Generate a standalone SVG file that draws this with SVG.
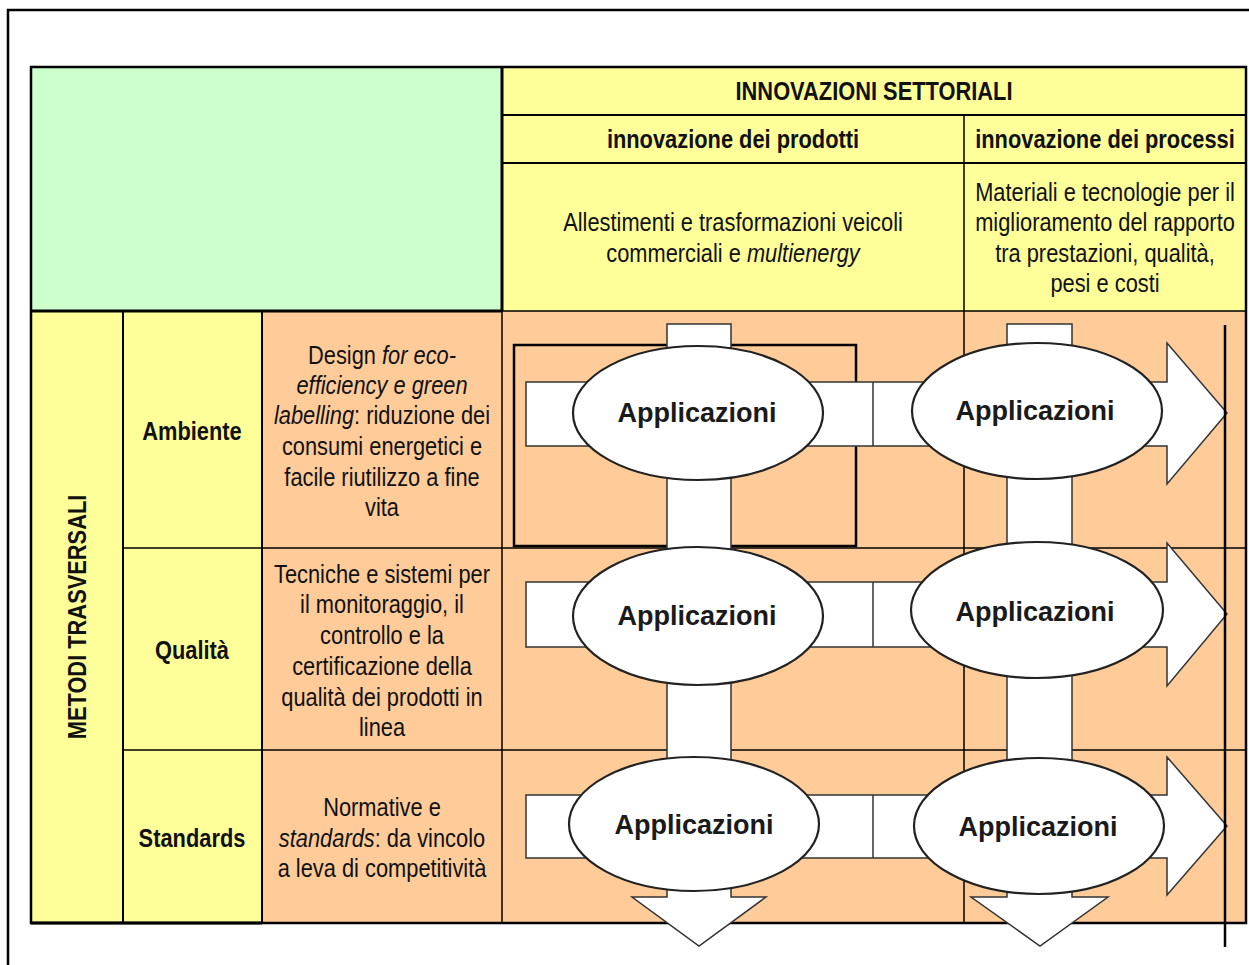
<svg xmlns="http://www.w3.org/2000/svg" width="1249" height="965" viewBox="0 0 1249 965">
<style>
.t{font-family:"Liberation Sans",Arial,sans-serif;font-size:26px;fill:#111;text-anchor:middle}
.b{font-weight:bold}
.i{font-style:italic}
.app{font-family:"Liberation Sans",Arial,sans-serif;font-size:27px;font-weight:bold;fill:#1a1a1a;text-anchor:middle}
.ln{stroke:#000;fill:none}
.shape{fill:#fff;stroke:#333;stroke-width:1.5}
.ell{fill:#fff;stroke:#222;stroke-width:2.2}
</style>
<rect width="1249" height="965" fill="#fff"/>
<g id="frame">
<path class="ln" stroke-width="2.5" d="M8,965 V10 H1249"/>
</g>
<g id="table">
<rect x="31" y="67" width="471" height="244" fill="#CCFFCC"/>
<rect x="502" y="67" width="744" height="244" fill="#FFFF99"/>
<rect x="31" y="311" width="231" height="612" fill="#FFFF99"/>
<rect x="262" y="311" width="984" height="612" fill="#FFCC99"/>
<path class="ln" stroke-width="1.5" d="M502,311 H1246 M964,115 V923 M502,311 V923 M123,548 H1246 M123,750 H1246 M262,923 H1246"/>
<path class="ln" stroke-width="2" d="M502,115 H1246 M502,163 H1246 M123,311 V923 M262,311 V923"/>
<path class="ln" stroke-width="3" d="M502,67 V311 M31,311 H502 M31,923 H262"/>
<rect class="ln" stroke-width="2.5" x="31" y="67" width="1215" height="856"/>
</g>
<g id="header">
<text class="t b" transform="matrix(0.84,0,0,1,874,100)">INNOVAZIONI SETTORIALI</text>
<text class="t b" transform="matrix(0.84,0,0,1,733,148)">innovazione dei prodotti</text>
<text class="t b" transform="matrix(0.84,0,0,1,1105,148)">innovazione dei processi</text>
<text class="t" transform="matrix(0.84,0,0,1,733,231)">Allestimenti e trasformazioni veicoli</text>
<text class="t" transform="matrix(0.84,0,0,1,733,262)">commerciali e <tspan class="i">multienergy</tspan></text>
<text class="t" transform="matrix(0.84,0,0,1,1105,201)">Materiali e tecnologie per il</text>
<text class="t" transform="matrix(0.84,0,0,1,1105,231)">miglioramento del rapporto</text>
<text class="t" transform="matrix(0.84,0,0,1,1105,262)">tra prestazioni, qualità,</text>
<text class="t" transform="matrix(0.84,0,0,1,1105,292)">pesi e costi</text>
</g>
<g id="metodi">
<text class="t b" transform="translate(86,617) rotate(-90) scale(0.84,1)">METODI TRASVERSALI</text>
</g>
<g id="ambiente">
<text class="t b" transform="matrix(0.84,0,0,1,192,440)">Ambiente</text>
<text class="t" transform="matrix(0.84,0,0,1,382,364)">Design <tspan class="i">for eco-</tspan></text>
<text class="t i" transform="matrix(0.84,0,0,1,382,394)">efficiency e green</text>
<text class="t" transform="matrix(0.84,0,0,1,382,424)"><tspan class="i">labelling</tspan>: riduzione dei</text>
<text class="t" transform="matrix(0.84,0,0,1,382,455)">consumi energetici e</text>
<text class="t" transform="matrix(0.84,0,0,1,382,486)">facile riutilizzo a fine</text>
<text class="t" transform="matrix(0.84,0,0,1,382,516)">vita</text>
</g>
<g id="qualita">
<text class="t b" transform="matrix(0.84,0,0,1,192,659)">Qualità</text>
<text class="t" transform="matrix(0.84,0,0,1,382,583)">Tecniche e sistemi per</text>
<text class="t" transform="matrix(0.84,0,0,1,382,613)">il monitoraggio, il</text>
<text class="t" transform="matrix(0.84,0,0,1,382,644)">controllo e la</text>
<text class="t" transform="matrix(0.84,0,0,1,382,675)">certificazione della</text>
<text class="t" transform="matrix(0.84,0,0,1,382,706)">qualità dei prodotti in</text>
<text class="t" transform="matrix(0.84,0,0,1,382,736)">linea</text>
</g>
<g id="standards">
<text class="t b" transform="matrix(0.84,0,0,1,192,847)">Standards</text>
<text class="t" transform="matrix(0.84,0,0,1,382,816)">Normative e</text>
<text class="t" transform="matrix(0.84,0,0,1,382,847)"><tspan class="i">standards</tspan>: da vincolo</text>
<text class="t" transform="matrix(0.84,0,0,1,382,877)">a leva di competitività</text>
</g>
<g id="connectors">
<rect class="ln" stroke-width="2.5" x="514" y="345" width="342" height="201"/>
<path class="shape" d="M667,324 H731 V897 H766 L699,946 L632,897 H667 Z"/>
<path class="shape" d="M1007,324 H1072 V897 H1108 L1040,946 L971,897 H1007 Z"/>
<path class="shape" d="M526,382 H1167 V343 L1227,413 L1167,484 V446 H526 Z M873,382 V446"/>
<path class="shape" d="M526,582 H1167 V543 L1227,614 L1167,686 V647 H526 Z M873,582 V647"/>
<path class="shape" d="M526,795 H1167 V757 L1227,826 L1167,895 V858 H526 Z M873,795 V858"/>
<line class="ln" stroke-width="2.5" x1="1225" y1="325" x2="1225" y2="947"/>
</g>
<g id="app-1-1"><ellipse class="ell" cx="698" cy="413" rx="125" ry="67"/><text class="app" x="697" y="422">Applicazioni</text></g>
<g id="app-1-2"><ellipse class="ell" cx="1037" cy="411" rx="125" ry="68"/><text class="app" x="1035" y="420">Applicazioni</text></g>
<g id="app-2-1"><ellipse class="ell" cx="698" cy="616" rx="125" ry="69"/><text class="app" x="697" y="625">Applicazioni</text></g>
<g id="app-2-2"><ellipse class="ell" cx="1037" cy="610" rx="126" ry="68"/><text class="app" x="1035" y="621">Applicazioni</text></g>
<g id="app-3-1"><ellipse class="ell" cx="694" cy="824" rx="125" ry="67"/><text class="app" x="694" y="834">Applicazioni</text></g>
<g id="app-3-2"><ellipse class="ell" cx="1039" cy="826" rx="125" ry="68"/><text class="app" x="1038" y="836">Applicazioni</text></g>
</svg>
